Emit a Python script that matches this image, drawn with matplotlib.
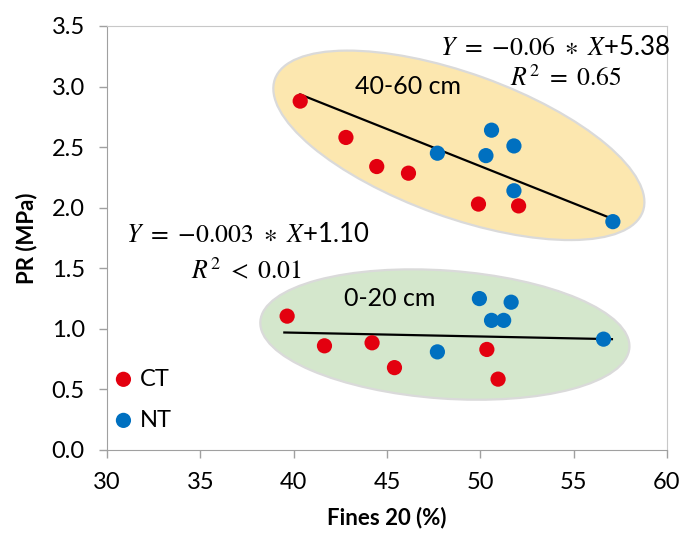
import matplotlib
matplotlib.use('Agg')
import matplotlib.pyplot as plt
from matplotlib.patches import Ellipse
from matplotlib.transforms import ScaledTranslation

plt.rcParams['font.family'] = ['Lato', 'DejaVu Sans']
plt.rcParams['mathtext.fontset'] = 'stix'

# 40-60 cm depth
ct_deep_x = [40.35, 42.8, 44.45, 46.15, 49.9, 52.05]
ct_deep_y = [2.88, 2.58, 2.34, 2.285, 2.03, 2.015]
nt_deep_x = [47.7, 50.6, 50.3, 51.8, 51.8, 57.1]
nt_deep_y = [2.45, 2.64, 2.43, 2.51, 2.14, 1.885]

# 0-20 cm depth
ct_top_x = [39.65, 41.65, 44.2, 45.4, 50.35, 50.95]
ct_top_y = [1.105, 0.86, 0.885, 0.68, 0.83, 0.585]
nt_top_x = [49.95, 51.65, 50.6, 51.25, 47.7, 56.6]
nt_top_y = [1.25, 1.22, 1.07, 1.07, 0.81, 0.915]

# trend lines (end points)
fit_deep_x = [40.35, 57.05]
fit_deep_y = [2.935, 1.91]
fit_top_x = [39.5, 57.05]
fit_top_y = [0.97, 0.915]

red = '#E3000F'
blue = '#0070C0'

fig = plt.figure(figsize=(6.81, 5.35), dpi=100)
ax = fig.add_axes([107/681, 85/535, 560/681, 424/535])

# shaded groups (size in inches, centre in data units)
for (cx, cy), w, h, ang, fc in [((48.85, 2.515), 3.91, 1.44, -19.8, '#FCE7AF'),
                                ((48.1, 0.953), 3.70, 1.28, -4.1, '#D4E7CC')]:
    e = Ellipse((0, 0), w, h, angle=ang, facecolor=fc, edgecolor='#DADADA', lw=1.6,
                transform=fig.dpi_scale_trans + ScaledTranslation(cx, cy, ax.transData),
                zorder=1)
    ax.add_patch(e)

ax.plot(fit_deep_x, fit_deep_y, color='black', lw=1.6, zorder=2)
ax.plot(fit_top_x, fit_top_y, color='black', lw=1.6, zorder=2)

ax.scatter(ct_deep_x + ct_top_x, ct_deep_y + ct_top_y, s=120, color=red,
           edgecolors='none', zorder=3, label='CT')
ax.scatter(nt_deep_x + nt_top_x, nt_deep_y + nt_top_y, s=120, color=blue,
           edgecolors='none', zorder=3, label='NT')

ax.text(46.1, 3.0, '40-60 cm', fontsize=18, ha='center', va='center', zorder=4)
ax.text(45.15, 1.25, '0-20 cm', fontsize=18, ha='center', va='center', zorder=4)

ax.text(47.84, 3.32, r'$Y\ =\ {-}0.06\ \ast\ X$+5.38', fontsize=18.5, ha='left', va='center')
ax.text(51.59, 3.07, r'$R^2\ =\ 0.65$', fontsize=18.5, ha='left', va='center')
ax.text(31.02, 1.775, r'$Y\ =\ {-}0.003\ \ast\ X$+1.10', fontsize=18.5, ha='left', va='center')
ax.text(34.5, 1.486, r'$R^2\ <\ 0.01$', fontsize=18.5, ha='left', va='center')

ax.set_xlim(30, 60)
ax.set_ylim(0, 3.5)
ax.set_xticks(range(30, 61, 5))
ax.set_yticks([i * 0.5 for i in range(8)])
ax.set_yticklabels([f'{i * 0.5:.1f}' for i in range(8)])
ax.tick_params(labelsize=17, length=6, width=1, color='#A0A0A0', pad=10)

for s in ['left', 'bottom']:
    ax.spines[s].set_color('#A0A0A0')
for s in ['top', 'right']:
    ax.spines[s].set_color('#C8C8C8')

ax.set_xlabel('Fines 20 (%)', fontsize=16, fontweight='bold', labelpad=10)
ax.set_ylabel('PR (MPa)', fontsize=16, fontweight='bold', labelpad=10)

ax.legend(loc='center left', bbox_to_anchor=(0.0125, 0.119), frameon=False,
          fontsize=17, handlelength=0.8, handletextpad=0.3, borderpad=0,
          borderaxespad=0, labelspacing=0.85, scatterpoints=1)

fig.savefig('out.png', dpi=100)
